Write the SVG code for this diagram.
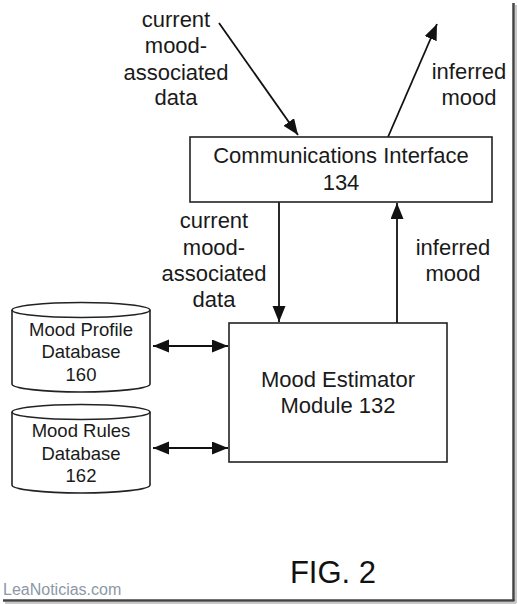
<svg xmlns="http://www.w3.org/2000/svg" width="518" height="604" viewBox="0 0 518 604">
  <style>
    .box { fill: #fff; stroke: #222; stroke-width: 1.6; }
    .lbl { font-family: "Liberation Sans", Arial, sans-serif; font-size: 22px; fill: #1a1a1a; text-anchor: middle; }
    .db { font-family: "Liberation Sans", Arial, sans-serif; font-size: 18.5px; fill: #1a1a1a; text-anchor: middle; }
    .conn { stroke: #111; stroke-width: 1.8; fill: none; }
  </style>
  <defs>
    <marker id="arr" markerUnits="userSpaceOnUse" markerWidth="18" markerHeight="14" refX="16" refY="6.5" orient="auto-start-reverse">
      <path d="M0,0 L16,6.5 L0,13 Z" fill="#111"/>
    </marker>
  </defs>
  <rect width="518" height="604" fill="#fff"/>

  <g id="frame">
    <line x1="516" y1="5" x2="516" y2="603" stroke="#c8c8c8" stroke-width="2"/>
    <line x1="5" y1="603" x2="516" y2="603" stroke="#c8c8c8" stroke-width="2"/>
    <line x1="513.5" y1="3" x2="513.5" y2="601" stroke="#444" stroke-width="2.5"/>
    <line x1="3" y1="600.5" x2="514.5" y2="600.5" stroke="#444" stroke-width="2.5"/>
  </g>

  <g id="connectors">
    <line class="conn" x1="219" y1="23" x2="298" y2="135" marker-end="url(#arr)"/>
    <line class="conn" x1="388" y1="137" x2="437" y2="24" marker-end="url(#arr)"/>
    <line class="conn" x1="279" y1="202" x2="279" y2="322" marker-end="url(#arr)"/>
    <line class="conn" x1="397" y1="323" x2="397" y2="203" marker-end="url(#arr)"/>
    <line class="conn" x1="153" y1="346" x2="228" y2="346" marker-start="url(#arr)" marker-end="url(#arr)"/>
    <line class="conn" x1="153" y1="448" x2="228" y2="448" marker-start="url(#arr)" marker-end="url(#arr)"/>
  </g>

  <g id="labels">
    <text class="lbl" x="176" y="27">current</text>
    <text class="lbl" x="176" y="53">mood-</text>
    <text class="lbl" x="176" y="80">associated</text>
    <text class="lbl" x="176" y="105">data</text>
    <text class="lbl" x="469" y="79">inferred</text>
    <text class="lbl" x="469" y="105">mood</text>
    <text class="lbl" x="214" y="228">current</text>
    <text class="lbl" x="214" y="255">mood-</text>
    <text class="lbl" x="214" y="281">associated</text>
    <text class="lbl" x="214" y="307">data</text>
    <text class="lbl" x="453" y="255">inferred</text>
    <text class="lbl" x="453" y="281">mood</text>
  </g>

  <g id="comm-interface">
    <rect class="box" x="190" y="137" width="302" height="65"/>
    <text class="lbl" x="341" y="163">Communications Interface</text>
    <text class="lbl" x="341" y="190">134</text>
  </g>

  <g id="mood-estimator">
    <rect class="box" x="229" y="323" width="218" height="139"/>
    <text class="lbl" x="338" y="387">Mood Estimator</text>
    <text class="lbl" x="338" y="413">Module 132</text>
  </g>

  <g id="mood-profile-db">
    <path class="box" d="M12,310 L12,384 A69,8 0 0 0 150,384 L150,310"/>
    <ellipse class="box" cx="81" cy="310" rx="69" ry="7.5"/>
    <text class="db" x="81" y="336">Mood Profile</text>
    <text class="db" x="81" y="358">Database</text>
    <text class="db" x="81" y="381">160</text>
  </g>

  <g id="mood-rules-db">
    <path class="box" d="M12,412 L12,485 A69,8 0 0 0 150,485 L150,412"/>
    <ellipse class="box" cx="81" cy="412" rx="69" ry="7.5"/>
    <text class="db" x="81" y="437">Mood Rules</text>
    <text class="db" x="81" y="460">Database</text>
    <text class="db" x="81" y="482">162</text>
  </g>

  <text x="333" y="583" font-family="Liberation Sans, Arial, sans-serif" font-size="31" fill="#111" text-anchor="middle">FIG. 2</text>
  <text x="3" y="595" font-family="Liberation Sans, Arial, sans-serif" font-size="16" fill="#8c98a6">LeaNoticias.com</text>
</svg>
